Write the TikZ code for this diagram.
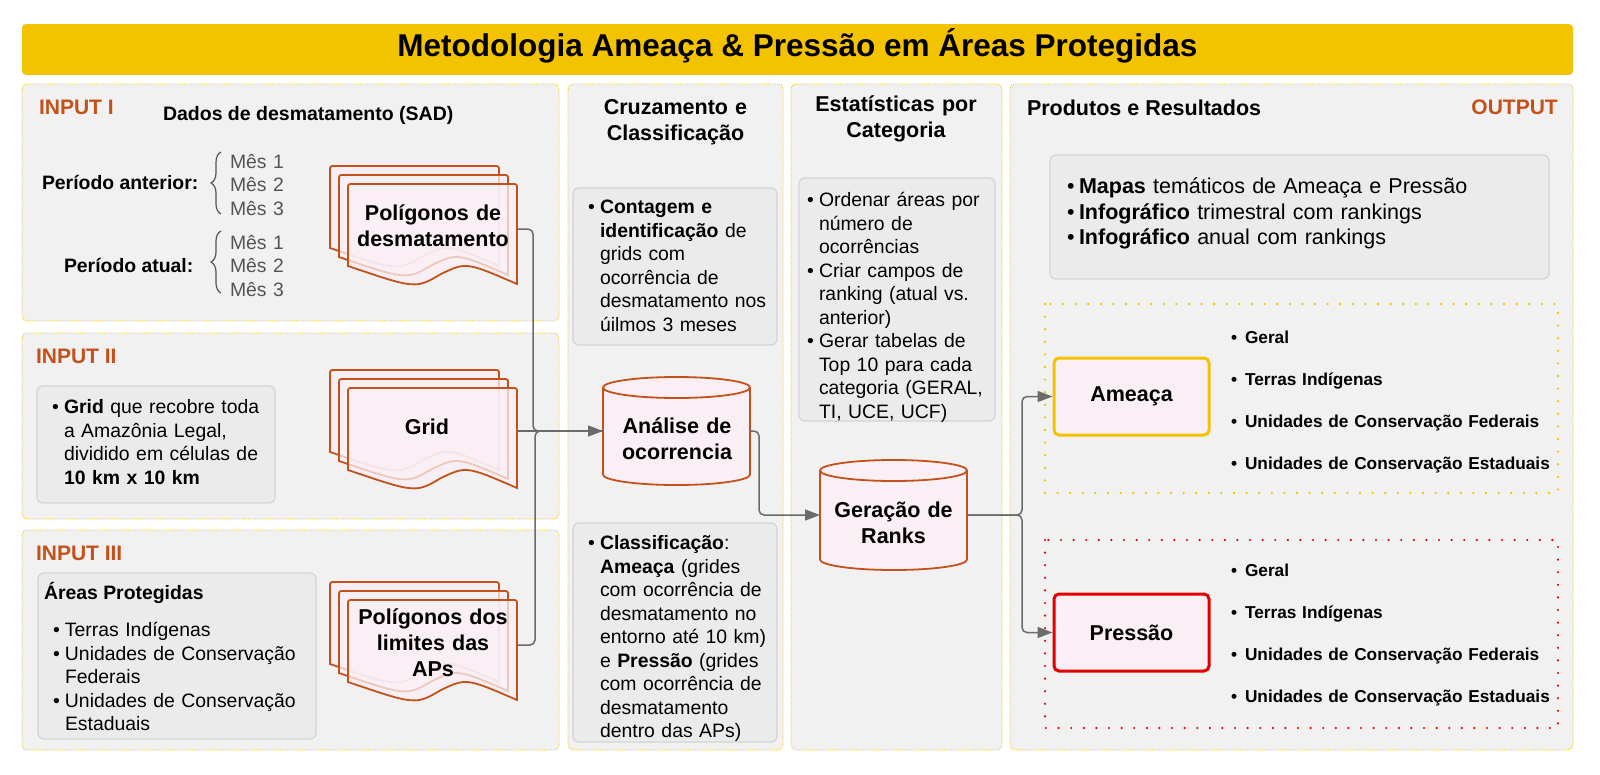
\documentclass[tikz,border=0pt]{standalone}
\usepackage{fontspec}
\setmainfont{Liberation Sans}
\usetikzlibrary{arrows.meta,decorations.pathreplacing}
\definecolor{gold}{HTML}{F4C300}
\definecolor{panelbg}{HTML}{F1F1F1}
\definecolor{boxbg}{HTML}{EBEBEB}
\definecolor{boxln}{HTML}{D3D3D9}
\definecolor{rust}{HTML}{C4511A}
\definecolor{pinkbg}{HTML}{FAEFF5}
\definecolor{conn}{HTML}{6B6B6B}
\definecolor{mesgray}{HTML}{555555}
\definecolor{redline}{HTML}{E00000}
\newcommand{\mybul}{\makebox[12pt][l]{•}}
\newcommand{\myind}{\hspace*{12pt}}
\newcommand{\mybulw}{\makebox[14pt][l]{•}}
\newcommand{\fbody}{\fontsize{19.4pt}{23.5pt}\selectfont}
\newcommand{\fhead}{\fontsize{21.5pt}{26pt}\selectfont\bfseries}
\tikzset{
  panel/.style={fill=panelbg, draw=gold, line width=0.8pt, dash pattern=on 1pt off 1.2pt, rounded corners=5pt},
  cbox/.style={fill=boxbg, draw=boxln, line width=1.2pt, rounded corners=6pt},
  txt/.style={inner sep=0pt, outer sep=0pt, anchor=base west},
  ctxt/.style={inner sep=0pt, outer sep=0pt, anchor=base, align=center, text width=200pt},
  mtxt/.style={inner sep=0pt, outer sep=0pt, anchor=base west, align=left, text width=#1},
  docln/.style={draw=rust, line width=1.8pt, fill=pinkbg, fill opacity=0.75, draw opacity=1},
  cyl/.style={draw=rust, line width=1.8pt, fill=pinkbg},
  connector/.style={draw=conn, line width=1.5pt, rounded corners=5pt},
  arr/.style={connector, -{Triangle[length=15pt,width=11pt]}},
  labelbox/.style={fill=pinkbg, line width=3pt, rounded corners=5pt},
  pics/mdoc/.style={code={
    \foreach \o in {0,9,18}{
      \path[docln] (\o,\o+82) -- (\o,\o+5) .. controls (\o,\o) .. (\o+5,\o) -- (\o+164,\o) .. controls (\o+169,\o) .. (\o+169,\o+5) -- (\o+169,\o+100) .. controls (\o+118.3,\o+78) .. (\o+93,\o+90) .. controls (\o+67.6,\o+105) .. (\o,\o+82) -- cycle;
    }
  }}
}
\begin{document}
\begin{tikzpicture}[x=1pt,y=-1pt]
\useasboundingbox[fill=white] (0,0) rectangle (1600,774);
% title
\fill[gold, rounded corners=4pt] (22,24) rectangle (1573,75);
\node[inner sep=0pt, anchor=base, font=\fontsize{31.5pt}{36pt}\selectfont\bfseries] (title) at (797.5,56) {Metodologia Ameaça \& Pressão em Áreas Protegidas};
% panels
\path[panel] (22,84) rectangle (559,321);
\path[panel] (22,333) rectangle (559,519);
\path[panel] (22,530) rectangle (559,750);
\path[panel] (568,84) rectangle (783,750);
\path[panel] (791,84) rectangle (1002,750);
\path[panel] (1010,84) rectangle (1573,750);
% content boxes
\path[cbox] (37,386) rectangle (275,503);
\path[cbox] (38,573) rectangle (316,739);
\path[cbox] (573,188) rectangle (777,345);
\path[cbox] (573,523) rectangle (777,742);
\path[cbox] (799,178) rectangle (995,421);
\path[cbox] (1050,155) rectangle (1549,279);
% ---- INPUT I
\node[txt, text=rust, font=\fontsize{21pt}{25pt}\selectfont\bfseries] (in1) at (39,114) {INPUT I};
\node[txt, font=\fontsize{19.5pt}{23pt}\selectfont\bfseries] (sad) at (163,120) {Dados de desmatamento (SAD)};
\node[txt, font=\fbody\bfseries] (pant) at (42,189) {Período anterior:};
\node[txt, font=\fbody\bfseries] (patu) at (64,272) {Período atual:};
\node[mtxt=80pt, text=mesgray, font=\fbody] (mes1) at (230,168) {Mês 1\\Mês 2\\Mês 3};
\node[mtxt=80pt, text=mesgray, font=\fbody] (mes2) at (230,249) {Mês 1\\Mês 2\\Mês 3};
\draw[mesgray, line width=1.2pt, decorate, decoration={brace, amplitude=10pt}] (221,214) -- (221,152);
\draw[mesgray, line width=1.2pt, decorate, decoration={brace, amplitude=10pt}] (221,293) -- (221,231);
\pic at (330,166) {mdoc};
\node[ctxt, font=\fhead] (d1) at (433,220.5) {Polígonos de\\desmatamento};
\coordinate (d1out) at (517,229);
% ---- INPUT II
\node[txt, text=rust, font=\fontsize{21pt}{25pt}\selectfont\bfseries] (in2) at (36,363.5) {INPUT II};
\node[mtxt=240pt, font=\fbody] (gridtxt) at (52,413.5) {\mybul\textbf{Grid} que recobre toda\\\myind a Amazônia Legal,\\\myind dividido em células de\\\myind\textbf{10 km x 10 km}};
\pic at (330,370) {mdoc};
\node[ctxt, font=\fhead] (d2) at (427,434.5) {Grid};
\coordinate (d2out) at (517,431);
% ---- INPUT III
\node[txt, text=rust, font=\fontsize{21pt}{25pt}\selectfont\bfseries] (in3) at (36,560.5) {INPUT III};
\node[txt, font=\fbody\bfseries] (ap) at (44,599) {Áreas Protegidas};
\node[mtxt=260pt, font=\fbody] (aplist) at (53,636.5) {\mybul Terras Indígenas\\\mybul Unidades de Conservação\\\myind Federais\\\mybul Unidades de Conservação\\\myind Estaduais};
\pic at (330,582) {mdoc};
\node[ctxt, font=\fhead] (d3) at (433,624.5) {Polígonos dos\\limites das\\APs};
\coordinate (d3out) at (517,645);
% ---- Cruzamento
\node[ctxt, font=\fhead] (cruz) at (675.5,114.5) {Cruzamento e\\Classificação};
\node[mtxt=200pt, font=\fbody] (cont) at (588,213.5) {\mybul\textbf{Contagem e}\\\myind\textbf{identificação} de\\\myind grids com\\\myind ocorrência de\\\myind desmatamento nos\\\myind úilmos 3 meses};
\node[mtxt=200pt, font=\fbody] (classif) at (588,549.5) {\mybul\textbf{Classificação}:\\\myind\textbf{Ameaça} (grides\\\myind com ocorrência de\\\myind desmatamento no\\\myind entorno até 10 km)\\\myind e \textbf{Pressão} (grides\\\myind com ocorrência de\\\myind desmatamento\\\myind dentro das APs)};
% cylinder Analise
\path[cyl] (603,387.5) -- (603,474.5) arc[start angle=180, end angle=0, x radius=73.5, y radius=10.5] -- (750,387.5) arc[start angle=0, end angle=-180, x radius=73.5, y radius=10.5] -- cycle;
\draw[draw=rust, line width=1.8pt] (603,387.5) arc[start angle=180, end angle=0, x radius=73.5, y radius=10.5];
\node[ctxt, font=\fhead] (ana) at (677,433.5) {Análise de\\ocorrencia};
\coordinate (anaW) at (603,431);
\coordinate (anaE) at (750,431);
% ---- Estatisticas
\node[ctxt, font=\fhead] (est) at (896,111.5) {Estatísticas por\\Categoria};
\node[mtxt=190pt, font=\fbody] (estlist) at (807,206.5) {\mybul Ordenar áreas por\\\myind número de\\\myind ocorrências\\\mybul Criar campos de\\\myind ranking (atual vs.\\\myind anterior)\\\mybul Gerar tabelas de\\\myind Top 10 para cada\\\myind categoria (GERAL,\\\myind TI, UCE, UCF)};
% cylinder Geracao
\path[cyl] (820,470.5) -- (820,559.5) arc[start angle=180, end angle=0, x radius=73.5, y radius=10.5] -- (967,470.5) arc[start angle=0, end angle=-180, x radius=73.5, y radius=10.5] -- cycle;
\draw[draw=rust, line width=1.8pt] (820,470.5) arc[start angle=180, end angle=0, x radius=73.5, y radius=10.5];
\node[ctxt, font=\fhead] (ger) at (893.5,517.5) {Geração de\\Ranks};
\coordinate (gerW) at (820,515);
\coordinate (gerE) at (967,515);
% ---- Produtos
\node[txt, font=\fontsize{21.5pt}{26pt}\selectfont\bfseries] (prod) at (1027,115.5) {Produtos e Resultados};
\node[inner sep=0pt, anchor=base east, text=rust, font=\fontsize{21pt}{25pt}\selectfont\bfseries] (outp) at (1558,114) {OUTPUT};
\node[mtxt=480pt, font=\fontsize{21.5pt}{25.5pt}\selectfont] (prodlist) at (1067,193.5) {\mybul\textbf{Mapas} temáticos de Ameaça e Pressão\\\mybul\textbf{Infográfico} trimestral com rankings\\\mybul\textbf{Infográfico} anual com rankings};
% groups
\draw[gold, line width=2.6pt, line cap=round, dash pattern=on 0pt off 12.6pt] (1045,304) rectangle (1558,493);
\draw[redline, line width=2.4pt, line cap=round, dash pattern=on 0pt off 12.6pt] (1045,540) rectangle (1558,728);
\node[labelbox, draw=gold, minimum width=155pt, minimum height=77pt, font=\fhead] (ame) at (1131.5,396.5) {Ameaça};
\node[labelbox, draw=redline, minimum width=155pt, minimum height=77pt, font=\fhead] (pre) at (1131.5,632.5) {Pressão};
\node[mtxt=340pt, font=\fontsize{17.25pt}{42pt}\selectfont\bfseries] (amelist) at (1231,343) {\mybulw Geral\\\mybulw Terras Indígenas\\\mybulw Unidades de Conservação Federais\\\mybulw Unidades de Conservação Estaduais};
\node[mtxt=340pt, font=\fontsize{17.25pt}{42pt}\selectfont\bfseries] (prelist) at (1231,576) {\mybulw Geral\\\mybulw Terras Indígenas\\\mybulw Unidades de Conservação Federais\\\mybulw Unidades de Conservação Estaduais};
% connectors
\draw[connector] (d1out) -- ++(16,0) |- (anaW);
\draw[connector] (d3out) -- ++(18,0) |- (anaW);
\draw[arr] (d2out) -- (anaW);
\draw[arr] (anaE) -- ++(9,0) |- (gerW);
\draw[arr] (gerE) -- ++(55,0) |- (ame.west);
\draw[arr] (gerE) -- ++(55,0) |- (pre.west);
\end{tikzpicture}
\end{document}
